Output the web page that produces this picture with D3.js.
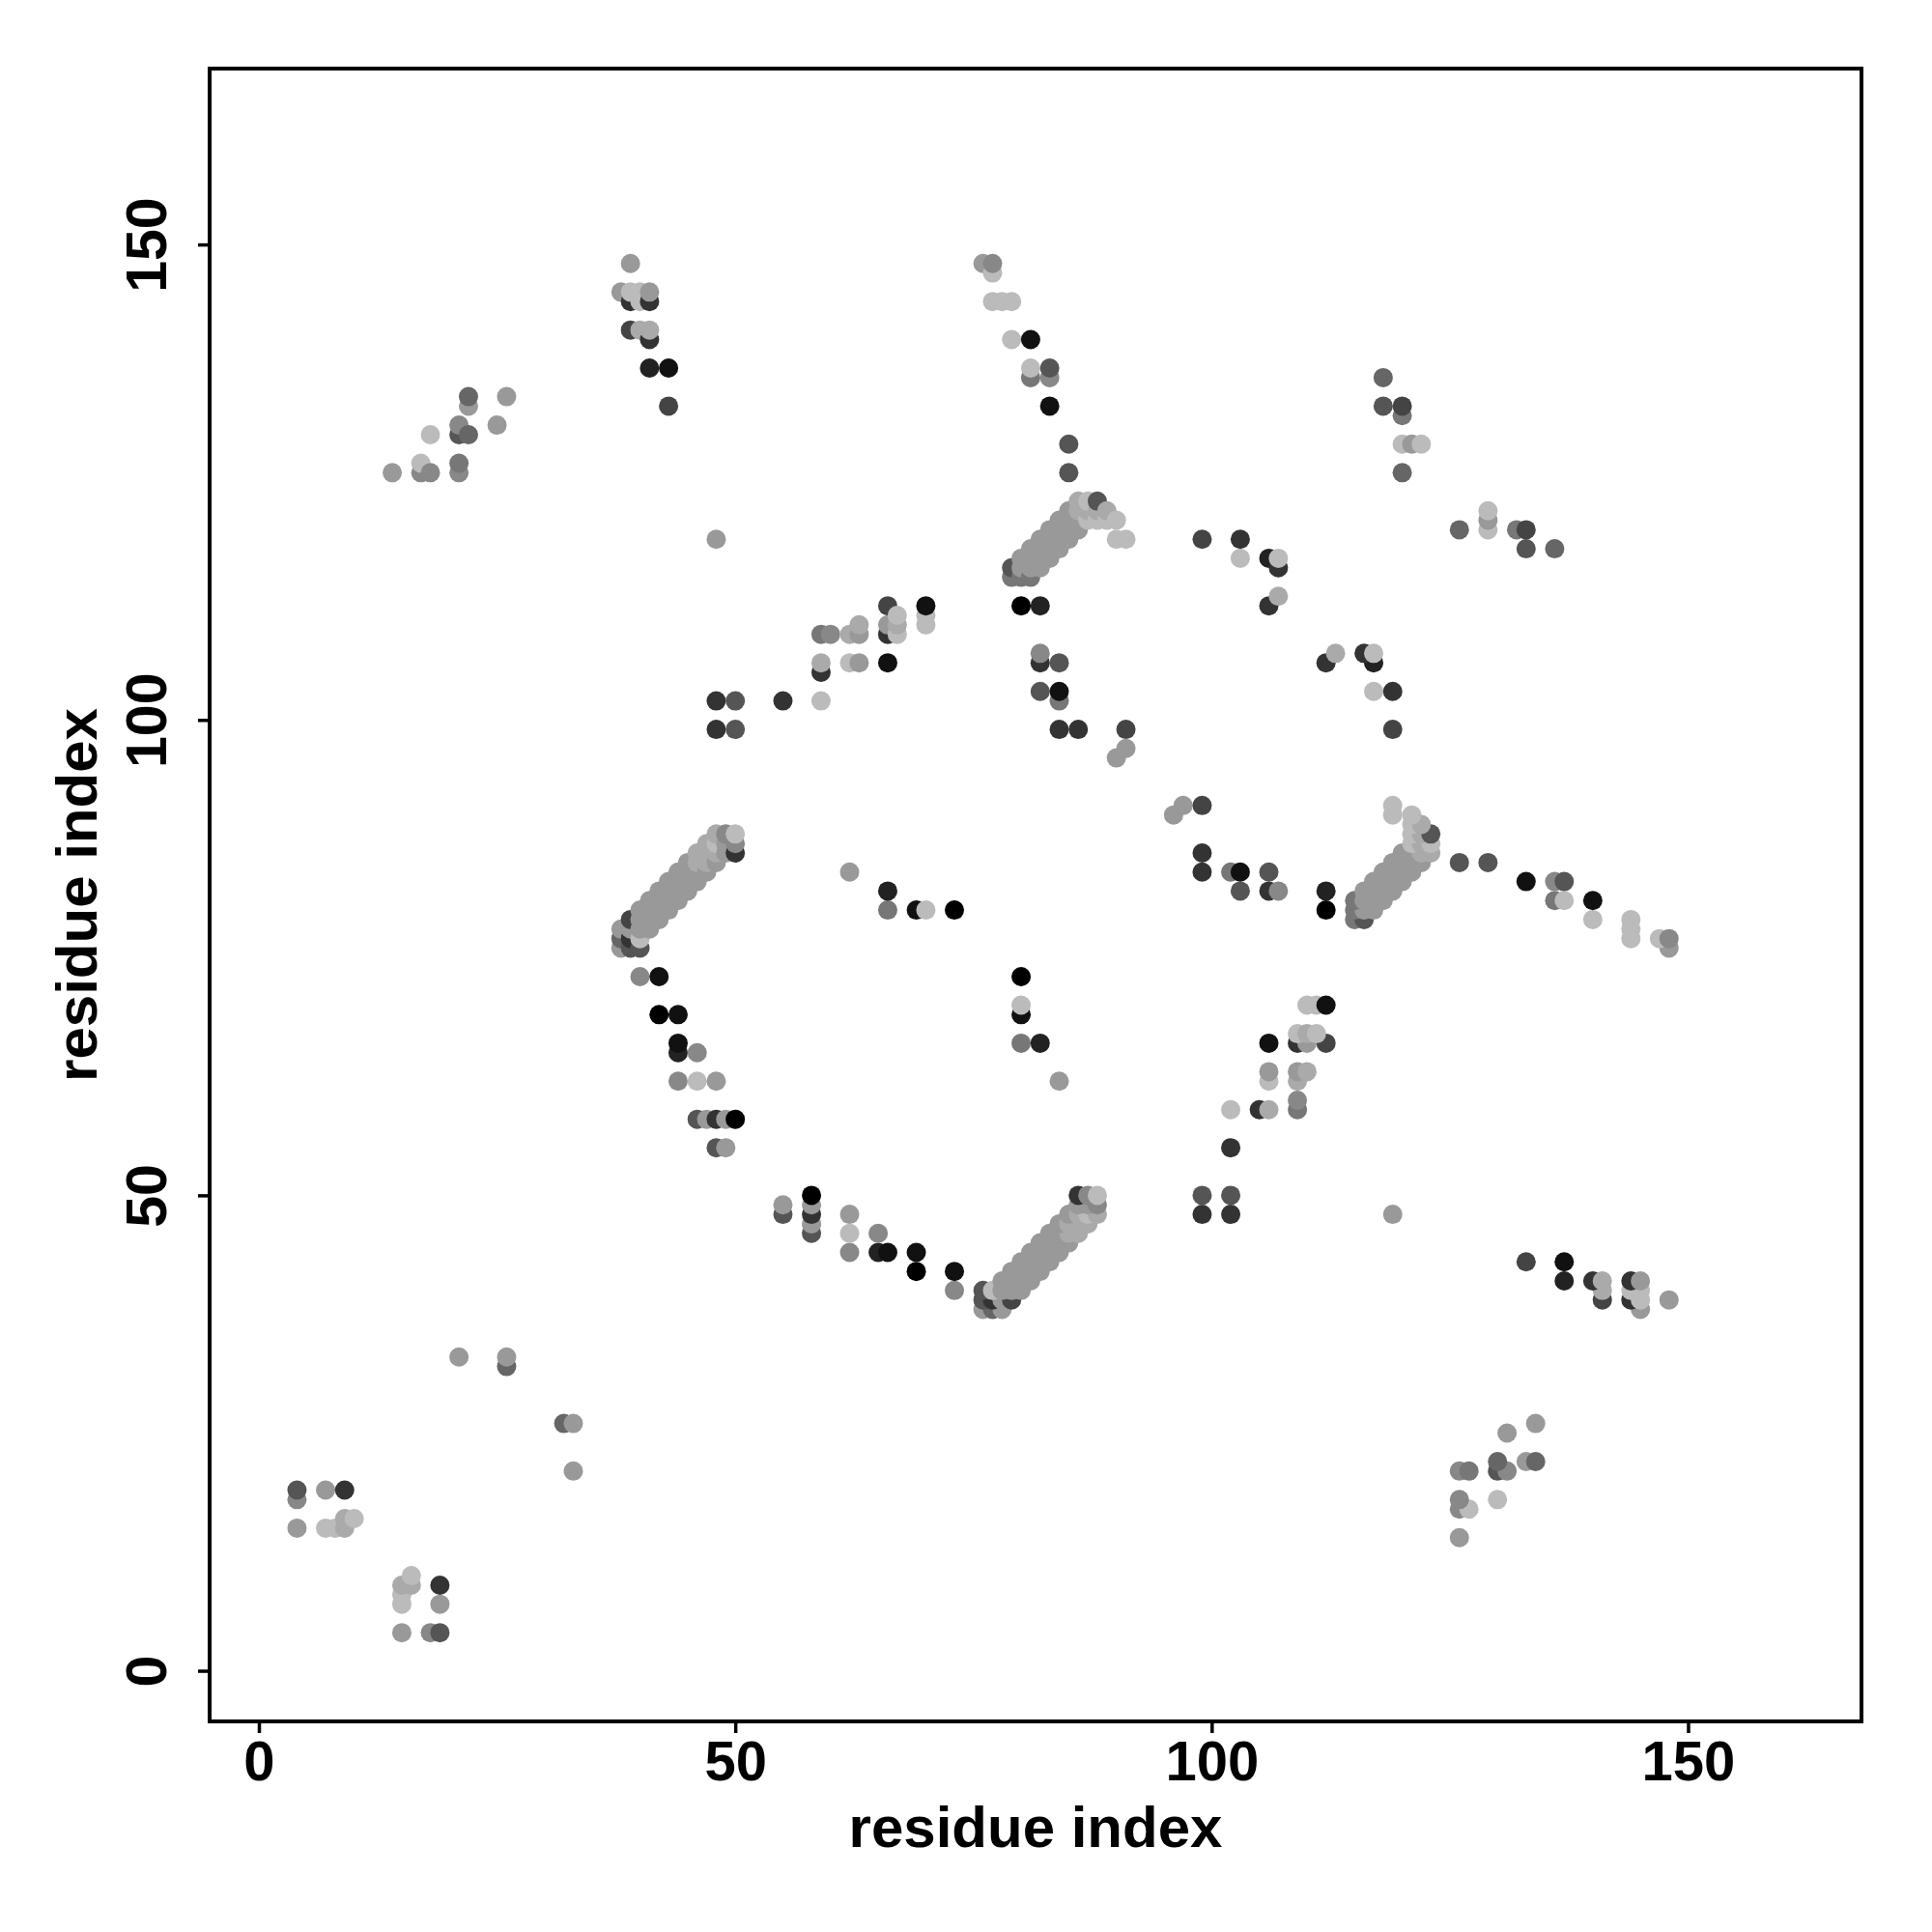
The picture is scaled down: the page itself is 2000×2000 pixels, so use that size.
<!DOCTYPE html>
<html><head><meta charset="utf-8">
<script src="https://cdn.jsdelivr.net/npm/d3@7"></script>
<style>body{margin:0;background:#fff}</style>
</head><body>
<svg id="chart" width="2000" height="2000" xmlns="http://www.w3.org/2000/svg"></svg>
<script>
// ---- data: contacts [residue i, residue j, score 0..11 (11 = strongest)] ----
const hairpinN = [
 [4,15,2],[4,18,3],[4,19,6],[7,15,0],[7,19,2],[8,15,0],[9,15,1],[9,16,1],[9,19,8],[10,16,0]
];
const sheetNC = [
 [14,126,2],[17,126,3],[17,127,0],[18,126,3],[18,130,0],[21,126,3],[21,127,4],[21,130,6],
 [21,131,3],[22,130,5],[22,133,2],[22,134,5],[25,131,2],[26,134,2]
];
const loopN = [[21,33,2],[26,32,5],[26,33,2]];
const strandB = [
 [38,145,2],[39,141,7],[39,144,8],[39,145,0],[39,148,2],[40,141,1],[40,144,0],[40,145,0],
 [41,137,9],[41,140,8],[41,141,1],[41,144,8],[41,145,2],[43,133,7],[43,137,10]
];
const bandA = [
 [38,76,2],[38,77,5],[38,78,2],
 [39,76,6],[39,77,8],[39,78,2],[39,79,7],
 [40,76,6],[40,77,0],[40,78,2],[40,79,2],[40,80,2],
 [41,78,2],[41,79,2],[41,80,2],[41,81,2],
 [42,79,2],[42,80,2],[42,81,2],[42,82,2],
 [43,80,2],[43,81,2],[43,82,2],[43,83,2],
 [44,81,2],[44,82,2],[44,83,2],[44,84,2],
 [45,82,2],[45,83,2],[45,84,2],[45,85,2],
 [46,83,2],[46,84,2],[46,85,1],[46,86,1],
 [47,84,2],[47,85,1],[47,86,1],[47,87,1],
 [48,85,2],[48,86,1],[48,87,0],[48,88,1],
 [49,86,2],[49,87,2],[49,88,3],
 [50,86,8],[50,87,3],[50,88,0]
];
const turnA = [
 [40,73,3],[42,69,11],[42,73,10],[44,62,3],[44,65,9],[44,66,10],[44,69,10],[46,58,6],
 [46,62,0],[46,65,3],[47,58,2],[48,55,6],[48,58,8],[48,62,2],[49,55,2],[49,58,2],[50,58,11]
];
const single48 = [[48,119,2]];
const sheetMid = [
 [48,99,8],[48,102,8],[50,99,6],[50,102,6],[55,102,8],[59,102,0],[59,105,8],[59,106,1],
 [59,109,4],[60,109,3],[62,106,0],[62,109,1],[63,106,2],[63,109,2],[63,110,1],[66,106,10],
 [66,109,8],[66,110,2],[66,112,7],[67,109,0],[67,110,1],[67,111,0],[70,110,0],[70,111,0],[70,112,10]
];
const loopMid = [[62,84,2],[66,80,4],[66,82,9],[69,80,10],[70,80,0],[73,80,11]];
const strandC = [
 [76,148,2],[77,144,0],[77,147,0],[77,148,3],[78,144,0],[79,140,0],[79,144,0],[81,136,4],
 [81,137,0],[81,140,10],[83,133,10],[83,136,3],[83,137,6],[85,126,6],[85,129,6]
];
const bandB = [
 [79,115,4],[79,116,6],
 [80,115,4],[80,116,2],[80,117,2],
 [81,115,4],[81,116,2],[81,117,2],[81,118,2],
 [82,116,2],[82,117,2],[82,118,2],[82,119,2],
 [83,117,2],[83,118,2],[83,119,2],[83,120,2],
 [84,118,2],[84,119,2],[84,120,2],[84,121,2],
 [85,119,2],[85,120,2],[85,121,2],[85,122,2],
 [86,120,2],[86,121,2],[86,122,1],[86,123,1],
 [87,121,0],[87,122,1],[87,123,0],
 [88,121,0],[88,122,1],[88,123,6],
 [89,121,0],[89,122,1],
 [90,119,0],[90,121,0],
 [91,119,0]
];
const loopC = [
 [80,112,11],[82,103,6],[82,106,8],[82,107,3],[82,112,9],[84,99,8],[84,102,4],[84,103,10],
 [84,106,6],[86,99,8],[90,96,2],[91,97,2],[91,99,7]
];
const sheetC = [
 [99,119,7],[103,117,0],[103,119,8],[106,112,8],[106,117,9],[107,113,1],[107,116,8],[107,117,0]
];
const sheetCT = [
 [118,133,6],[118,136,5],[120,126,5],[120,129,0],[120,132,4],[120,133,7],[121,129,2],[122,129,0]
];
const xTicks = [0, 50, 100, 150];
const yTicks = [0, 50, 100, 150];
const xTitle = "residue index";
const yTitle = "residue index";

// ---- drawing ----
const contacts = [].concat(hairpinN, sheetNC, loopN, strandB, bandA, turnA, single48,
  sheetMid, loopMid, strandC, bandB, loopC, sheetC, sheetCT);
const points = [];
contacts.forEach(([i, j, s]) => { points.push({a: i, b: j, s}); points.push({a: j, b: i, s}); });

const L = 217, R = 1927, T = 71, B = 1782;
const svg = d3.select("#chart");
const x = d3.scaleLinear().domain([-5.17, 168.2]).range([L, R]);
const y = d3.scaleLinear().domain([-5.33, 168.5]).range([B, T]);
const shade = d3.scaleLinear().domain([0, 11]).range(["#bbbbbb", "#000000"]);

svg.append("rect").attr("width", 2000).attr("height", 2000).attr("fill", "#fff");

svg.append("g").selectAll("circle").data(points).join("circle")
  .attr("cx", d => x(d.a)).attr("cy", d => y(d.b)).attr("r", 10)
  .attr("fill", d => shade(d.s));

svg.append("rect").attr("x", L).attr("y", T).attr("width", R - L).attr("height", B - T)
  .attr("fill", "none").attr("stroke", "#000").attr("stroke-width", 4);

const font = "'Liberation Sans', Arial, Helvetica, sans-serif";

const gx = svg.append("g").attr("transform", `translate(0,${B})`)
  .call(d3.axisBottom(x).tickValues(xTicks).tickSize(12).tickPadding(8).tickFormat(d3.format("d")));
gx.select(".domain").remove();
gx.selectAll(".tick line").attr("stroke", "#000").attr("stroke-width", 3.5);
gx.selectAll(".tick text").attr("fill", "#000").style("font-family", font)
  .style("font-weight", "bold").style("font-size", "58px");

const gy = svg.append("g").attr("transform", `translate(${L},0)`)
  .call(d3.axisLeft(y).tickValues(yTicks).tickSize(12).tickFormat(d3.format("d")));
gy.select(".domain").remove();
gy.selectAll(".tick line").attr("stroke", "#000").attr("stroke-width", 3.5);
gy.selectAll(".tick text").attr("fill", "#000").attr("x", null).attr("dy", null)
  .attr("transform", "translate(-45,0) rotate(-90)").attr("text-anchor", "middle")
  .style("font-family", font).style("font-weight", "bold").style("font-size", "59px");

svg.append("text").attr("x", (L + R) / 2).attr("y", 1912).attr("text-anchor", "middle")
  .style("font-family", font).style("font-weight", "bold").style("font-size", "60px")
  .text(xTitle);
svg.append("text").attr("transform", `translate(100,${(T + B) / 2}) rotate(-90)`)
  .attr("text-anchor", "middle")
  .style("font-family", font).style("font-weight", "bold").style("font-size", "60px")
  .text(yTitle);
</script>
</body></html>
